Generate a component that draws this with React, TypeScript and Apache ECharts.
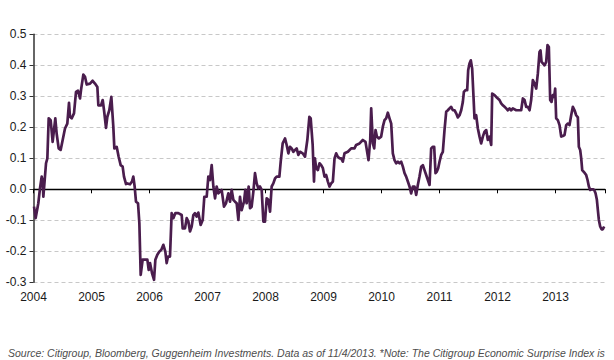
import React, { useEffect, useRef } from "react";
import * as echarts from "echarts";

// Decimal-year dates and Citigroup Economic Surprise Index values
const dates: number[] = [
  2004.009, 2004.037, 2004.083, 2004.112, 2004.141, 2004.158, 2004.170, 2004.193, 2004.216, 2004.239,
  2004.262, 2004.296, 2004.330, 2004.353, 2004.376, 2004.399, 2004.434, 2004.468, 2004.503, 2004.543,
  2004.583, 2004.612, 2004.629, 2004.658, 2004.698, 2004.733, 2004.767, 2004.802, 2004.819, 2004.859,
  2004.888, 2004.917, 2004.974, 2005.020, 2005.060, 2005.101, 2005.118, 2005.164, 2005.193, 2005.216,
  2005.250, 2005.273, 2005.307, 2005.342, 2005.376, 2005.394, 2005.434, 2005.468, 2005.503, 2005.537,
  2005.560, 2005.595, 2005.618, 2005.664, 2005.698, 2005.721, 2005.744, 2005.767, 2005.802, 2005.825,
  2005.848, 2005.882, 2005.922, 2005.963, 2005.986, 2006.009, 2006.043, 2006.078, 2006.101, 2006.135,
  2006.170, 2006.204, 2006.239, 2006.273, 2006.296, 2006.319, 2006.353, 2006.382, 2006.411, 2006.445,
  2006.497, 2006.555, 2006.572, 2006.612, 2006.641, 2006.670, 2006.698, 2006.727, 2006.756, 2006.784,
  2006.813, 2006.842, 2006.882, 2006.917, 2006.945, 2006.986, 2007.014, 2007.043, 2007.072, 2007.101,
  2007.130, 2007.158, 2007.187, 2007.216, 2007.244, 2007.284, 2007.319, 2007.359, 2007.388, 2007.417,
  2007.445, 2007.474, 2007.503, 2007.532, 2007.560, 2007.589, 2007.629, 2007.652, 2007.675, 2007.710,
  2007.733, 2007.761, 2007.790, 2007.819, 2007.848, 2007.876, 2007.905, 2007.934, 2007.963, 2007.991,
  2008.020, 2008.049, 2008.078, 2008.106, 2008.135, 2008.164, 2008.193, 2008.239, 2008.262, 2008.296,
  2008.336, 2008.365, 2008.394, 2008.422, 2008.451, 2008.480, 2008.509, 2008.537, 2008.566, 2008.595,
  2008.641, 2008.681, 2008.721, 2008.756, 2008.779, 2008.813, 2008.836,
  2008.851, 2008.874, 2008.902, 2008.931, 2008.960, 2008.989, 2009.017, 2009.046, 2009.075, 2009.103,
  2009.132, 2009.161, 2009.190, 2009.218, 2009.247, 2009.276, 2009.305, 2009.333, 2009.362, 2009.420,
  2009.477, 2009.534, 2009.563, 2009.621, 2009.678, 2009.724, 2009.747, 2009.776, 2009.805, 2009.822,
  2009.851, 2009.874, 2009.897, 2009.920, 2009.954, 2009.994, 2010.023, 2010.052, 2010.080, 2010.109,
  2010.138, 2010.167, 2010.195, 2010.224, 2010.253, 2010.282, 2010.310, 2010.339, 2010.368, 2010.397,
  2010.425, 2010.454, 2010.483, 2010.511, 2010.540, 2010.569, 2010.598, 2010.626, 2010.655, 2010.684,
  2010.713, 2010.741, 2010.770, 2010.799, 2010.828, 2010.856, 2010.885, 2010.908, 2010.931, 2010.954,
  2010.977, 2011.000, 2011.029, 2011.057, 2011.086, 2011.115, 2011.144, 2011.172, 2011.201, 2011.230,
  2011.259, 2011.287, 2011.316, 2011.345, 2011.374, 2011.402, 2011.420, 2011.448, 2011.477, 2011.494,
  2011.517, 2011.540, 2011.563, 2011.586, 2011.603, 2011.632, 2011.661, 2011.690, 2011.718, 2011.747,
  2011.776, 2011.805, 2011.833, 2011.862, 2011.891, 2011.908, 2011.948, 2011.977, 2012.006, 2012.034,
  2012.063, 2012.092, 2012.121, 2012.149, 2012.178, 2012.207, 2012.236, 2012.264, 2012.322, 2012.379,
  2012.408, 2012.437, 2012.466, 2012.494, 2012.523, 2012.552, 2012.580, 2012.609, 2012.638, 2012.667,
  2012.695, 2012.724, 2012.741, 2012.759, 2012.782, 2012.810, 2012.839, 2012.862, 2012.885, 2012.908,
  2012.931, 2012.954, 2012.977, 2012.994, 2013.011, 2013.040, 2013.069, 2013.098, 2013.126, 2013.155,
  2013.184, 2013.213, 2013.241, 2013.270, 2013.299, 2013.328, 2013.356, 2013.385, 2013.402, 2013.425,
  2013.443, 2013.460, 2013.483, 2013.506, 2013.529, 2013.552, 2013.575, 2013.598, 2013.621, 2013.644,
  2013.667, 2013.690, 2013.713, 2013.730, 2013.747, 2013.770, 2013.793, 2013.816, 2013.839,
];

const values: number[] = [
  -0.056, -0.093, -0.045, 0.003, 0.041, 0.025, -0.024, 0.030, 0.084, 0.100,
  0.229, 0.223, 0.153, 0.191, 0.229, 0.180, 0.132, 0.127, 0.159, 0.196,
  0.212, 0.279, 0.234, 0.229, 0.245, 0.314, 0.318, 0.293, 0.320, 0.370,
  0.363, 0.338, 0.341, 0.350, 0.341, 0.330, 0.271, 0.271, 0.288, 0.255,
  0.198, 0.234, 0.255, 0.298, 0.202, 0.132, 0.137, 0.105, 0.078, 0.073,
  0.041, 0.017, 0.019, 0.016, 0.025, 0.041, 0.009, -0.040, -0.045, -0.109,
  -0.276, -0.227, -0.227, -0.227, -0.260, -0.238, -0.270, -0.292, -0.227, -0.211,
  -0.201, -0.195, -0.179, -0.201, -0.238, -0.217, -0.217, -0.077, -0.093, -0.077,
  -0.077, -0.083, -0.126, -0.126, -0.093, -0.104, -0.136, -0.120, -0.083, -0.077,
  -0.088, -0.075, -0.115, -0.099, -0.024, -0.024, 0.041, 0.030, 0.078, 0.009,
  -0.029, 0.009, -0.013, -0.008, -0.002, -0.056, -0.045, -0.013, -0.040, -0.002,
  -0.034, -0.040, -0.045, -0.099, -0.024, -0.067, -0.040, -0.002, -0.045, 0.009,
  -0.061, -0.056, -0.008, 0.052, 0.019, 0.003, 0.009, -0.002, -0.104, -0.104,
  -0.029, -0.034, -0.072, 0.009, 0.019, 0.035, 0.041, 0.041, 0.089, 0.148,
  0.164, 0.143, 0.116, 0.137, 0.132, 0.121, 0.127, 0.132, 0.111, 0.121,
  0.116, 0.105, 0.159, 0.234, 0.229, 0.143, 0.025,
  0.100, 0.068, 0.062, 0.084, 0.078, 0.068, 0.041, 0.046, 0.025, 0.009,
  0.019, 0.025, 0.100, 0.116, 0.105, 0.100, 0.100, 0.089, 0.116, 0.121,
  0.132, 0.132, 0.143, 0.148, 0.159, 0.153, 0.127, 0.094, 0.159, 0.261,
  0.148, 0.132, 0.191, 0.170, 0.164, 0.170, 0.202, 0.223, 0.229, 0.247,
  0.229, 0.212, 0.116, 0.094, 0.084, 0.089, 0.084, 0.089, 0.073, 0.052,
  0.041, 0.025, 0.009, -0.013, 0.009, 0.009, -0.018, 0.014, 0.041, 0.073,
  0.078, 0.062, 0.046, 0.030, 0.014, 0.132, 0.137, 0.137, 0.052, 0.057,
  0.068, 0.089, 0.111, 0.121, 0.191, 0.250, 0.255, 0.261, 0.266, 0.255,
  0.255, 0.245, 0.232, 0.239, 0.255, 0.282, 0.314, 0.320, 0.320, 0.384,
  0.406, 0.416, 0.389, 0.298, 0.229, 0.239, 0.196, 0.170, 0.148, 0.170,
  0.186, 0.191, 0.159, 0.170, 0.143, 0.309, 0.304, 0.298, 0.293, 0.288,
  0.277, 0.271, 0.266, 0.261, 0.255, 0.261, 0.255, 0.261, 0.255, 0.255,
  0.255, 0.293, 0.288, 0.266, 0.266, 0.255, 0.288, 0.352, 0.341, 0.325,
  0.373, 0.443, 0.448, 0.411, 0.406, 0.400, 0.411, 0.465, 0.459, 0.288,
  0.282, 0.304, 0.298, 0.325, 0.229, 0.223, 0.207, 0.170, 0.172, 0.175,
  0.207, 0.212, 0.207, 0.239, 0.266, 0.255, 0.239, 0.232, 0.137, 0.127,
  0.100, 0.062, 0.057, 0.052, 0.046, 0.030, 0.009, -0.002, 0.000, 0.000,
  -0.002, -0.013, -0.034, -0.067, -0.099, -0.120, -0.129, -0.129, -0.120,
];

const yearTicks: number[] = [2004, 2005, 2006, 2007, 2008, 2009, 2010, 2011, 2012, 2013];
const xMin = 2004;
const xMax = 2013.853;
const yMin = -0.3;
const yMax = 0.5;
const yStep = 0.1;
const sourceNote =
  "Source: Citigroup, Bloomberg, Guggenheim Investments. Data as of 11/4/2013. *Note: The Citigroup Economic Surprise Index is";

export default function App() {
  const ref = useRef<HTMLDivElement>(null);

  useEffect(() => {
    if (!ref.current) return;
    const chart = echarts.init(ref.current, undefined, { renderer: "svg" });
    const font = "'Liberation Sans', Arial, sans-serif";
    const seriesData = dates.map((d, i) => [d, values[i]]);

    chart.setOption({
      animation: false,
      backgroundColor: "#ffffff",
      grid: { left: 33.5, right: 9, top: 34.3, bottom: 77.7, containLabel: false },
      xAxis: [
        {
          type: "value",
          min: xMin,
          max: xMax,
          interval: 1,
          position: "bottom",
          axisLine: { show: false, onZero: false },
          axisTick: { show: false },
          splitLine: { show: false },
          axisLabel: {
            show: true,
            margin: 9,
            color: "#1a1a1a",
            fontSize: 12,
            fontFamily: font,
            showMaxLabel: false,
            formatter: (v: number) =>
              yearTicks.indexOf(Math.round(v)) >= 0 && Math.abs(v - Math.round(v)) < 1e-6
                ? String(Math.round(v))
                : "",
          },
        },
        {
          type: "value",
          min: xMin,
          max: xMax,
          interval: 1,
          position: "bottom",
          axisLine: { show: true, onZero: true, lineStyle: { color: "#000000", width: 1.3 } },
          axisTick: { show: true, length: 4, lineStyle: { color: "#000000", width: 1 } },
          axisLabel: { show: false },
          splitLine: { show: false },
        },
      ],
      yAxis: {
        type: "value",
        min: yMin,
        max: yMax,
        interval: yStep,
        axisLine: { show: true, onZero: false, lineStyle: { color: "#333333", width: 1.5 } },
        axisTick: { show: true, length: 4, lineStyle: { color: "#333333", width: 1 } },
        axisLabel: {
          color: "#1a1a1a",
          fontSize: 12,
          fontFamily: font,
          margin: 7,
          formatter: (v: number) => v.toFixed(1),
        },
        splitLine: {
          show: true,
          lineStyle: { color: "#c8c8c8", width: 1, type: [4, 3] },
        },
      },
      series: [
        {
          type: "line",
          xAxisIndex: 0,
          data: seriesData,
          showSymbol: false,
          symbol: "none",
          lineStyle: { color: "#4a1d4d", width: 2.7, join: "round" },
          z: 5,
        },
      ],
      graphic: [
        {
          type: "text",
          left: 8,
          top: 347,
          style: {
            text: sourceNote,
            fill: "#4d4d4d",
            fontSize: 10.5,
            fontStyle: "italic",
            fontFamily: font,
          },
        },
      ],
    });

    return () => chart.dispose();
  }, []);

  return (
    <div
      ref={ref}
      style={{ position: "absolute", left: 0, top: 0, width: 614, height: 360 }}
    />
  );
}
